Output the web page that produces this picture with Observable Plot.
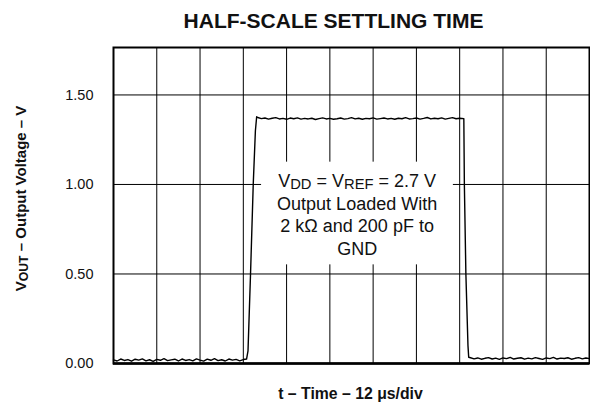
<!DOCTYPE html>
<html>
<head>
<meta charset="utf-8">
<script src="https://cdn.jsdelivr.net/npm/d3@7"></script>
<script src="https://cdn.jsdelivr.net/npm/@observablehq/plot@0.6"></script>
<style>
  html, body { margin: 0; padding: 0; background: white; }
  #chart { width: 590px; height: 412px; }
</style>
</head>
<body>
<div id="chart"></div>
<script>
// ---- texts ----
const titleText = "HALF-SCALE SETTLING TIME";
const xLabelText = "t – Time – 12 μs/div";
const yLabelText = "V_{OUT} – Output Voltage – V";
const noteLines = ["V_{DD} = V_{REF} = 2.7 V", "Output Loaded With", "2 kΩ and 200 pF to", "GND"];

// ---- axes / grid (time in µs, 12 µs/div, voltage in V) ----
const xGrid = [0, 12, 24, 36, 48, 60, 72, 84, 96, 108, 120, 132];
const yGrid = [0.5, 1.0, 1.5];
const yTicks = [0, 0.5, 1.0, 1.5];

// ---- trace segments ----
const lowBeforeT = [0,1,2,3,4,5,6,7,8,9,10,11,12,13,14,15,16,17,18,19,20,21,22,23,24,25,26,27,28,29,30,31,32,33,34,35,36];
const lowBeforeV = [0.020,0.014,0.025,0.017,0.022,0.013,0.024,0.019,0.026,0.015,0.021,0.012,0.023,0.018,0.027,0.016,0.020,0.024,0.014,0.025,0.017,0.022,0.015,0.026,0.019,0.013,0.024,0.018,0.027,0.016,0.021,0.014,0.025,0.019,0.023,0.015,0.022];
const riseT = [36.9, 37.3, 38.0, 38.75, 39.35, 39.7];
const riseV = [0.025, 0.07, 0.5, 1.0, 1.3, 1.378];
const highT = [40,41,42,43,44,45,46,47,48,49,50,51,52,53,54,55,56,57,58,59,60,61,62,63,64,65,66,67,68,69,70,71,72,73,74,75,76,77,78,79,80,81,82,83,84,85,86,87,88,89,90,91,92,93,94,95,96];
const highV = [1.374,1.368,1.371,1.365,1.370,1.373,1.366,1.369,1.364,1.371,
               1.367,1.372,1.365,1.369,1.366,1.370,1.363,1.368,1.372,1.366,
               1.369,1.364,1.367,1.371,1.365,1.368,1.373,1.366,1.370,1.364,
               1.369,1.367,1.372,1.365,1.368,1.371,1.366,1.369,1.364,1.370,
               1.367,1.373,1.366,1.368,1.371,1.365,1.369,1.374,1.366,1.370,
               1.367,1.372,1.365,1.369,1.373,1.367,1.370];
const fallT = [97.15, 97.3, 97.72, 98.3, 98.5];
const fallV = [1.368, 1.0, 0.5, 0.1, 0.035];
const lowAfterT = [99,100,101,102,103,104,105,106,107,108,109,110,111,112,113,114,115,116,117,118,119,120,121,122,123,124,125,126,127,128,129,130,131,132];
const lowAfterV = [0.032,0.026,0.031,0.024,0.029,0.033,0.025,0.030,0.023,0.031,
                   0.027,0.034,0.025,0.029,0.032,0.024,0.030,0.026,0.033,0.028,
                   0.023,0.031,0.027,0.034,0.025,0.030,0.028,0.032,0.024,0.029,
                   0.033,0.026,0.031,0.027];

// annotation box (data coords) and note anchor
const noteBox = {t1: 41.06, t2: 94.25, v1: 0.551, v2: 1.1246};
const noteAnchor = {t: 67.56, v: 0.836};

const traceT = [...lowBeforeT, ...riseT, ...highT, ...fallT, ...lowAfterT];
const traceV = [...lowBeforeV, ...riseV, ...highV, ...fallV, ...lowAfterV];
const trace = traceT.map((t, i) => ({t, v: traceV[i]}));

const font = "'Liberation Sans', Arial, Helvetica, sans-serif";

const plot = Plot.plot({
  width: 590,
  height: 412,
  marginLeft: 113,
  marginRight: 1,
  marginTop: 47,
  marginBottom: 49,
  style: {fontFamily: font, fontSize: "14.5px", color: "#111", background: "white", overflow: "visible"},
  x: {domain: [0, 132], axis: null},
  y: {domain: [0, 1.765], ticks: yTicks, tickFormat: d3.format(".2f"), tickSize: 0, tickPadding: 20, label: null},
  marks: [
    Plot.ruleX(xGrid, {stroke: "black", strokeWidth: 1}),
    Plot.ruleY(yGrid, {stroke: "black", strokeWidth: 1}),
    Plot.rect([noteBox], {x1: "t1", x2: "t2", y1: "v1", y2: "v2", fill: "white"}),
    Plot.line(trace, {x: "t", y: "v", stroke: "black", strokeWidth: 1.4}),
    Plot.frame({stroke: "black", strokeWidth: 2}),
    Plot.ruleY([0], {stroke: "black", strokeWidth: 2.5}),
    Plot.text([noteLines.join("\n")], {x: noteAnchor.t, y: noteAnchor.v, text: d => d, fontSize: 18, lineHeight: 1.26, fill: "#111"}),
    Plot.text([titleText], {frameAnchor: "top", textAnchor: "middle", lineAnchor: "middle", text: d => d, dx: -18, dy: -26.5, fontSize: 21, fontWeight: "bold", fill: "#111"}),
    Plot.text([xLabelText], {frameAnchor: "bottom", textAnchor: "middle", lineAnchor: "middle", text: d => d, dx: -1, dy: 30, fontSize: 15.8, fontWeight: "bold", fill: "#111"}),
    Plot.text([yLabelText], {frameAnchor: "left", textAnchor: "middle", lineAnchor: "middle", text: d => d, dx: -92, dy: -7, rotate: -90, fontSize: 15, fontWeight: "bold", fill: "#111"})
  ]
});

// turn "_{...}" markup into subscript tspans
const svgNS = "http://www.w3.org/2000/svg";
d3.select(plot).selectAll("text, tspan").each(function() {
  const node = this;
  if (node.children.length > 0) return;
  const s = node.textContent;
  if (!s.includes("_{")) return;
  const parts = s.split(/(_\{[^}]*\})/);
  node.textContent = "";
  let shifted = false;
  for (const p of parts) {
    if (!p) continue;
    const ts = document.createElementNS(svgNS, "tspan");
    if (p.startsWith("_{")) {
      ts.textContent = p.slice(2, -1);
      ts.setAttribute("font-size", "0.82em");
      ts.setAttribute("dy", "2");
      shifted = true;
    } else {
      ts.textContent = p;
      if (shifted) ts.setAttribute("dy", "-2");
      shifted = false;
    }
    node.appendChild(ts);
  }
});

document.getElementById("chart").appendChild(plot);
</script>
</body>
</html>
